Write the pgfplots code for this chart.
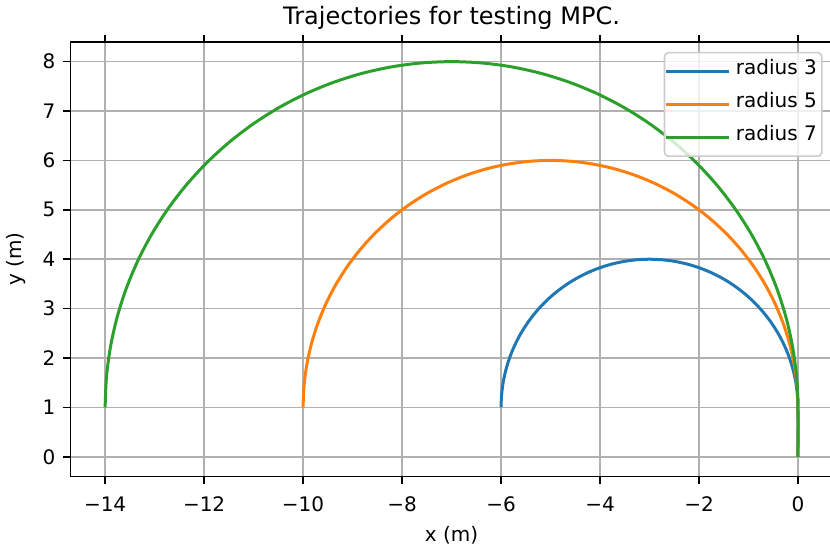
\documentclass[border=0pt]{standalone}
\usepackage{fontspec}
\setmainfont{DejaVu Sans}
\usepackage{pgfplots}
\pgfplotsset{compat=1.18}

\definecolor{mplblue}{HTML}{1F77B4}
\definecolor{mplorange}{HTML}{FF7F0E}
\definecolor{mplgreen}{HTML}{2CA02C}
\definecolor{gridgray}{HTML}{B0B0B0}

\begin{document}
\begin{tikzpicture}
\begin{axis}[
  scale only axis,
  width=381.3pt, height=217.5pt,
  xmin=-14.7, xmax=0.7,
  ymin=-0.4, ymax=8.4,
  xtick={-14,-12,-10,-8,-6,-4,-2,0},
  xticklabels={−14,−12,−10,−8,−6,−4,−2,0},
  ytick={0,1,2,3,4,5,6,7,8},
  yticklabels={0,1,2,3,4,5,6,7,8},
  tick align=outside,
  major tick length=3.5pt,
  tick style={black, line width=0.8pt},
  axis line style={black, line width=0.8pt},
  grid=major,
  major grid style={gridgray, line width=0.8pt},
  ticklabel style={font=\fontsize{10}{12}\selectfont},
  xticklabel style={yshift=-3pt},
  yticklabel style={xshift=-0.5pt},
  label style={font=\fontsize{10}{12}\selectfont},
  xlabel={x (m)},
  ylabel={y (m)},
  xlabel style={yshift=-0.5pt},
  ylabel style={yshift=1.5pt},
  title={Trajectories for testing MPC.},
  title style={font=\fontsize{12}{14.4}\selectfont, anchor=base, yshift=2.5pt},
  every axis plot/.append style={line width=1.5pt, line join=round, smooth},
  legend cell align=left,
  legend image code/.code={%
    \path (-6.25pt,0pt) -- (25.5pt,0pt);
    \draw[#1, line cap=rect] (0pt,0pt) -- (20pt,0pt);},
  legend style={
    at={(1,1)}, anchor=north east, xshift=-5pt, yshift=-5pt,
    draw=black!20, line width=0.8pt, rounded corners=2pt,
    fill=white, fill opacity=0.8, text opacity=1,
    inner xsep=0pt, inner ysep=3.45pt,
    row sep=4.75pt,
    font=\fontsize{10}{12}\selectfont,
    nodes={inner xsep=2.5pt, inner ysep=0pt, text height=7.3pt, text depth=4.5pt},
  },
]
% radius 3: straight start, then half circle centred at (-3,1)
\addplot[mplblue] coordinates {
(0,0) (0,1) (-0.01143,1.26148) (-0.04557,1.52095) (-0.10221,1.77646) (-0.18093,2.02606)
(-0.28107,2.26786) (-0.40192,2.5) (-0.54255,2.72074) (-0.70188,2.92837) (-0.87868,3.12132)
(-1.07163,3.29813) (-1.27926,3.45745) (-1.5,3.59808) (-1.73214,3.71893) (-1.97394,3.81908)
(-2.22354,3.89778) (-2.47905,3.95442) (-2.73852,3.98858) (-3,4) (-3.26148,3.98858)
(-3.52095,3.95442) (-3.77646,3.89778) (-4.02606,3.81908) (-4.26786,3.71893) (-4.5,3.59808)
(-4.72074,3.45745) (-4.92837,3.29813) (-5.12132,3.12132) (-5.29813,2.92837) (-5.45745,2.72074)
(-5.59808,2.5) (-5.71893,2.26786) (-5.81908,2.02606) (-5.89778,1.77646) (-5.95442,1.52095)
(-5.98858,1.26148) (-6,1)
};
\addlegendentry{radius 3}
% radius 5
\addplot[mplorange] coordinates {
(0,0) (0,1) (-0.01905,1.43578) (-0.07596,1.86824) (-0.17037,2.29410) (-0.30154,2.71010)
(-0.46845,3.11309) (-0.66987,3.5) (-0.90424,3.86788) (-1.16978,4.21394) (-1.46447,4.53553)
(-1.78606,4.83022) (-2.13211,5.09576) (-2.5,5.33013) (-2.88691,5.53154) (-3.28990,5.69846)
(-3.70590,5.82963) (-4.13176,5.92404) (-4.56422,5.98097) (-5,6) (-5.43578,5.98097)
(-5.86824,5.92404) (-6.29410,5.82963) (-6.71010,5.69846) (-7.11309,5.53154) (-7.5,5.33013)
(-7.86788,5.09576) (-8.21394,4.83022) (-8.53553,4.53553) (-8.83022,4.21394) (-9.09576,3.86788)
(-9.33013,3.5) (-9.53154,3.11309) (-9.69846,2.71010) (-9.82963,2.29410) (-9.92404,1.86824)
(-9.98097,1.43578) (-10,1)
};
\addlegendentry{radius 5}
% radius 7
\addplot[mplgreen] coordinates {
(0,0) (0,1) (-0.02664,1.61009) (-0.10635,2.21554) (-0.23852,2.81173) (-0.42216,3.39414)
(-0.65583,3.95833) (-0.93782,4.5) (-1.26593,5.01503) (-1.63770,5.49951) (-2.05025,5.94975)
(-2.50049,6.36230) (-2.98496,6.73406) (-3.5,7.06218) (-4.04168,7.34416) (-4.60585,7.57785)
(-5.18827,7.76148) (-5.78446,7.89365) (-6.38991,7.97336) (-7,8) (-7.61009,7.97336)
(-8.21554,7.89365) (-8.81173,7.76148) (-9.39414,7.57785) (-9.95833,7.34416) (-10.5,7.06218)
(-11.01504,6.73406) (-11.49951,6.36230) (-11.94975,5.94975) (-12.36230,5.49951) (-12.73406,5.01503)
(-13.06218,4.5) (-13.34416,3.95833) (-13.57785,3.39414) (-13.76148,2.81173) (-13.89365,2.21554)
(-13.97336,1.61009) (-14,1)
};
\addlegendentry{radius 7}
\end{axis}
% the figure is trimmed just short of the right-hand frame line
\pgfresetboundingbox
\useasboundingbox (current axis.outer south west) rectangle ([xshift=-1.3pt]current axis.north east |- current axis.outer north east);
\end{tikzpicture}
\end{document}
